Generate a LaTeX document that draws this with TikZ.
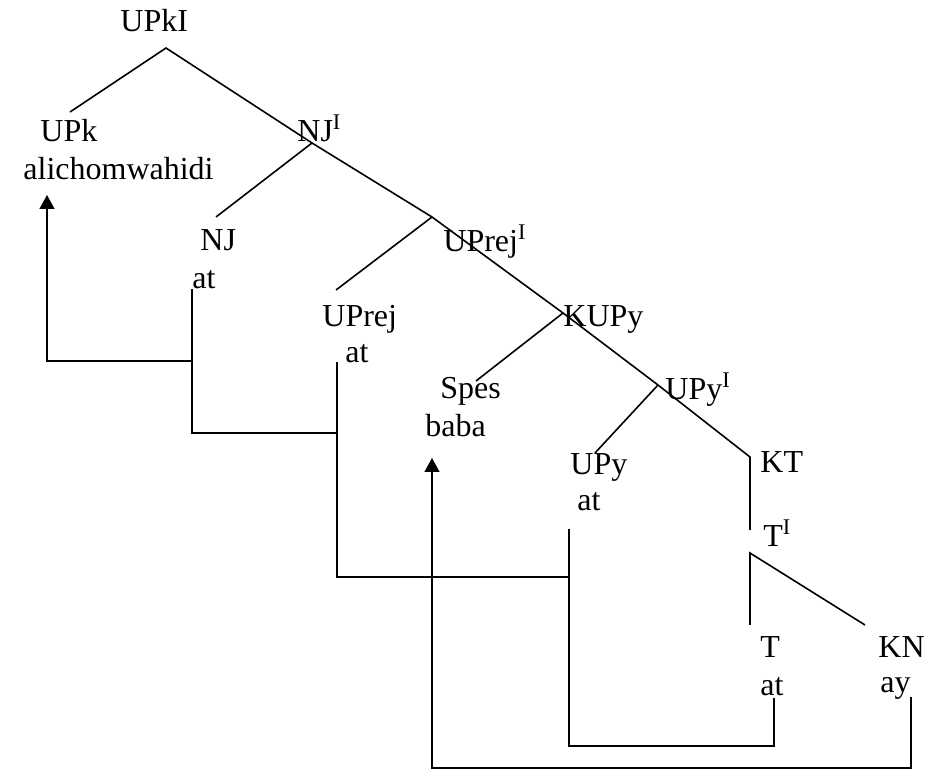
\documentclass[tikz,border=0pt]{standalone}
\usepackage{fontspec}
\setmainfont{Liberation Serif}
\usetikzlibrary{arrows.meta}
\tikzset{
  lab/.style={anchor=base west,inner sep=0pt,font=\fontsize{16}{19}\selectfont},
  br/.style={draw=black,line width=0.8pt},
  mv/.style={draw=black,line width=0.8pt},
  up/.style={mv,-{Triangle[length=7pt,width=7.5pt]}},
}
\begin{document}
\begin{tikzpicture}[x=0.5pt,y=-0.5pt]
\useasboundingbox (0,0) rectangle (950,770);
% branch points of the tree
\coordinate (r) at (166,48);
\coordinate (lk) at (70,112);
\coordinate (nj1) at (312,143);
\coordinate (njend) at (216,217);
\coordinate (uprej1) at (432,217);
\coordinate (uprejend) at (336,290);
\coordinate (kupy) at (563,313);
\coordinate (spesend) at (476,381);
\coordinate (upy1) at (658,385);
\coordinate (upyend) at (595,453);
\coordinate (kt) at (750,457);
\coordinate (ktend) at (750,530);
\coordinate (t1) at (750,553);
\coordinate (tend) at (750,625);
\coordinate (knend) at (865,625);
% labels
\node[lab] (upki) at (120,32) {UPkI};
\node[lab] (upk) at (40,142) {UPk};
\node[lab] (alicho) at (23,180) {alichomwahidi};
\node[lab] (njbar) at (297,142) {NJ\textsuperscript{I}};
\node[lab] (nj) at (200,251) {NJ};
\node[lab] (njat) at (192,289) {at};
\node[lab] (uprejbar) at (443,252) {UPrej\textsuperscript{I}};
\node[lab] (uprej) at (322,327) {UPrej};
\node[lab] (uprejat) at (345,363) {at};
\node[lab] (kupyl) at (563,327) {KUPy};
\node[lab] (spes) at (440,399) {Spes};
\node[lab] (baba) at (425,437) {baba};
\node[lab] (upybar) at (665,400) {UPy\textsuperscript{I}};
\node[lab] (upy) at (570,475) {UPy};
\node[lab] (upyat) at (577,511) {at};
\node[lab] (ktl) at (760,473) {KT};
\node[lab] (tbar) at (763,547) {T\textsuperscript{I}};
\node[lab] (tl) at (760,658) {T};
\node[lab] (tat) at (760,696) {at};
\node[lab] (kn) at (878,658) {KN};
\node[lab] (knay) at (880,693) {ay};
% tree
\draw[br] (lk) -- (r) -- (nj1) -- (uprej1) -- (kupy) -- (upy1) -- (kt) -- (ktend);
\draw[br] (nj1) -- (njend);
\draw[br] (uprej1) -- (uprejend);
\draw[br] (kupy) -- (spesend);
\draw[br] (upy1) -- (upyend);
\draw[br] (tend) -- (t1) -- (knend);
% movement lines
\coordinate (at5) at (774,698);
\coordinate (at4) at (569,529);
\coordinate (at3) at (337,362);
\coordinate (at2) at (192,289);
\coordinate (j4) at (569,577);
\coordinate (j3) at (337,433);
\coordinate (j2) at (192,361);
\coordinate (hd1) at (47,195);
\coordinate (ay) at (911,697);
\coordinate (hd2) at (432,458);
\draw[mv] (at5) -- ++(0,48) -| (at4);
\draw[mv] (at3) |- (j4);
\draw[mv] (at2) |- (j3);
\draw[up] (j2) -| (hd1);
\draw[up] (ay) -- ++(0,71) -| (hd2);
\end{tikzpicture}
\end{document}
